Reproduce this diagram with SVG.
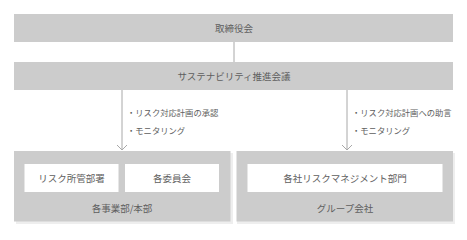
<svg xmlns="http://www.w3.org/2000/svg" width="467" height="240" viewBox="0 0 467 240">
<style>
text{font-family:"Noto Sans CJK JP","Noto Sans",sans-serif;fill:#5e5e5e;}
.g{fill:#cccccc;}
.w{fill:#ffffff;}
.sh{fill:#eeeeee;}
.t{font-size:9.5px;text-anchor:middle;dominant-baseline:central;}
.s{font-size:8.3px;dominant-baseline:central;}
.ln{stroke:#a8a8a8;stroke-width:1;fill:none;}
</style>
<g id="connectors">
<line class="ln" x1="234" y1="42" x2="234" y2="62"/>
<path class="ln" d="M122,90 L122,150 M117,145 L122,150 L127,145"/>
<path class="ln" d="M347,90 L347,150 M342,145 L347,150 L352,145"/>
<text class="s" x="127" y="112">・リスク対応計画の承認</text>
<text class="s" x="127" y="129.5">・モニタリング</text>
<text class="s" x="352" y="112">・リスク対応計画への助言</text>
<text class="s" x="352" y="129.5">・モニタリング</text>
</g>
<g id="board">
<rect class="g" x="14" y="14" width="439" height="28"/>
<text class="t" x="234" y="28">取締役会</text>
</g>
<g id="sustainability">
<rect class="g" x="14" y="62" width="439" height="28"/>
<text class="t" x="234" y="76">サステナビリティ推進会議</text>
</g>
<g id="divisions">
<rect class="sh" x="16" y="153" width="217" height="71"/>
<rect class="g" x="14" y="151" width="216.5" height="70.5"/>
<text class="t" x="122" y="208">各事業部/本部</text>
</g>
<g id="risk-dept">
<rect class="w" x="24.5" y="164" width="94" height="28"/>
<text class="t" x="71.5" y="178">リスク所管部署</text>
</g>
<g id="committees">
<rect class="w" x="125" y="164" width="94" height="28"/>
<text class="t" x="172" y="178">各委員会</text>
</g>
<g id="group">
<rect class="sh" x="237" y="153" width="218" height="71"/>
<rect class="g" x="236.5" y="151" width="216.5" height="70.5"/>
<text class="t" x="345" y="208">グループ会社</text>
</g>
<g id="group-risk">
<rect class="w" x="247.5" y="164" width="195" height="28"/>
<text class="t" x="345" y="178">各社リスクマネジメント部門</text>
</g>
</svg>
